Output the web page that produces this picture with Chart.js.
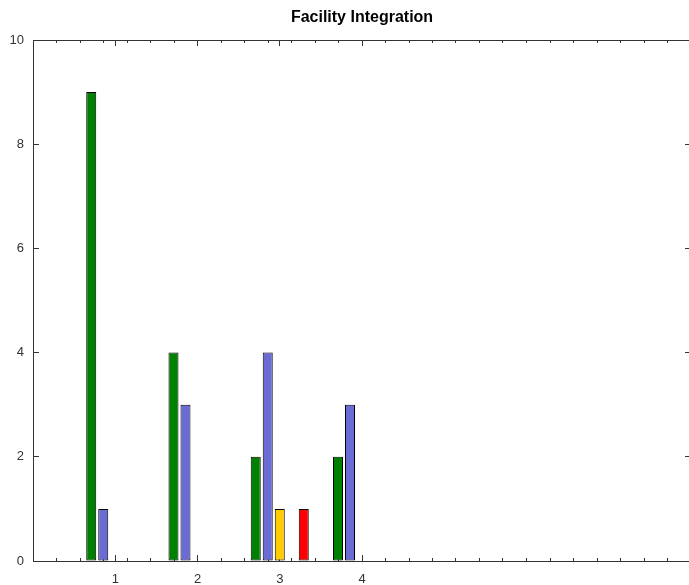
<!DOCTYPE html>
<html>
<head>
<meta charset="utf-8">
<script src="https://cdn.jsdelivr.net/npm/chart.js@4/dist/chart.umd.min.js"></script>
<style>
  html, body { margin: 0; padding: 0; background: #fff; overflow: hidden; }
  canvas { display: block; }
</style>
</head>
<body>
<canvas id="chart" width="695" height="585"></canvas>
<script>
// values
const categories = [1, 2, 3, 4];
const seriesGreen  = [9, 4, 2, 2];
const seriesBlue   = [1, 3, 4, 3];
const seriesYellow = [null, null, 1, null];
const seriesEmpty  = [null, null, null, null];
const seriesRed    = [null, null, 1, null];
const yTicks = [0, 2, 4, 6, 8, 10];
const xMin = 0, xMax = 8;
const minorStep = 2 / 7;

const points = vals => categories.map((c, i) => ({ x: c, y: vals[i] }));
const minorTicks = [];
for (let k = 0; k * minorStep <= xMax + 1e-9; k++) minorTicks.push({ value: k * minorStep });

const axisColor = '#333';
const labelFont = { family: 'Liberation Sans', size: 13 };

const bar = (label, vals, color) => ({
    label: label,
    data: points(vals),
    backgroundColor: color,
    borderColor: '#000',
    borderWidth: 1,
    borderSkipped: false,
    categoryPercentage: 0.73,
    barPercentage: 0.833,
});

// extra axes only used for the mirrored / minor tick marks
const decoAxis = (position, weight, ticks, len, size) => ({
    type: 'linear',
    position: position,
    weight: weight,
    min: xMin,
    max: xMax,
    offset: false,
    afterBuildTicks: s => { s.ticks = ticks.map(v => ({ value: v.value !== undefined ? v.value : v })); },
    afterFit: s => { s.height = size; },
    ticks: { display: false },
    grid: { offset: false, drawOnChartArea: false, drawTicks: true, tickLength: -len, tickColor: axisColor },
    border: { display: true, color: axisColor },
});

new Chart(document.getElementById('chart'), {
    type: 'bar',
    data: {
        datasets: [
            bar('Series 1', seriesGreen, '#008000'),
            bar('Series 2', seriesBlue, '#6b6bd6'),
            bar('Series 3', seriesYellow, '#ffcc00'),
            bar('Series 4', seriesEmpty, '#999999'),
            bar('Series 5', seriesRed, '#ff0000'),
        ]
    },
    options: {
        responsive: false,
        animation: false,
        layout: { padding: 0 },
        plugins: {
            legend: { display: false },
            tooltip: { enabled: false },
            title: {
                display: true,
                fullSize: false,
                text: 'Facility Integration',
                color: '#000',
                font: { family: 'Liberation Sans', size: 16, weight: 'bold' },
                padding: { top: 8, bottom: 6 },
            }
        },
        scales: {
            x: {
                type: 'linear',
                position: 'bottom',
                weight: 1,
                min: xMin,
                max: xMax,
                offset: false,
                afterBuildTicks: s => { s.ticks = categories.map(v => ({ value: v })); },
                afterFit: s => { s.height = 24; },
                ticks: {
                    color: axisColor,
                    font: labelFont,
                    padding: 17,
                    callback: v => String(v),
                },
                grid: { offset: false, drawOnChartArea: false, drawTicks: true, tickLength: -6, tickColor: axisColor },
                border: { display: true, color: axisColor },
            },
            xMinor: decoAxis('bottom', 0, minorTicks, 3, 0),
            xTopMinor: decoAxis('top', 0, minorTicks, 3, 0),
            xTop: decoAxis('top', 1, categories, 6, 6.8),
            y: {
                min: 0,
                max: 10,
                afterBuildTicks: s => { s.ticks = yTicks.map(v => ({ value: v })); },
                afterFit: s => { s.width = 33; },
                ticks: { color: axisColor, font: labelFont, padding: 15 },
                grid: { drawOnChartArea: false, drawTicks: true, tickLength: -6, tickColor: axisColor },
                border: { display: true, color: axisColor },
            },
            yRight: {
                position: 'right',
                min: 0,
                max: 10,
                afterBuildTicks: s => { s.ticks = yTicks.map(v => ({ value: v })); },
                afterFit: s => { s.width = 4; },
                ticks: { display: false },
                grid: { drawOnChartArea: false, drawTicks: true, tickLength: -6, tickColor: axisColor },
                border: { display: true, color: axisColor },
            },
        }
    }
});
</script>
</body>
</html>
